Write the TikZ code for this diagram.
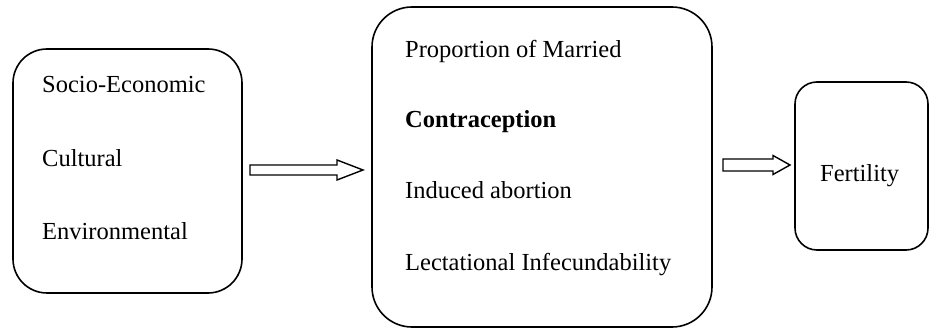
\documentclass[tikz,border=0pt]{standalone}
\usepackage{fontspec}
\setmainfont{Liberation Serif}
\usetikzlibrary{calc}
\begin{document}
\begin{tikzpicture}[x=1pt,y=-1pt,
  boxshape/.style={draw, line width=1.6pt, inner sep=0pt, outer sep=0pt},
  label/.style={anchor=base west, inner sep=0pt, font=\fontsize{24.5}{29}\selectfont},
  hollowarrow/.style={draw, line width=1.4pt, line join=miter, fill=white}]
\useasboundingbox (0,0) rectangle (931,328);
% boxes
\node[boxshape, rounded corners=34pt, minimum width=229pt, minimum height=244pt] (b1) at (127.5,171) {};
\node[boxshape, rounded corners=40pt, minimum width=340pt, minimum height=320pt] (b2) at (542,167) {};
\node[boxshape, rounded corners=22pt, minimum width=133pt, minimum height=168pt] (b3) at (861.5,166) {};
% texts
\node[label] (t1) at (42,93) {Socio-Economic};
\node[label] (t2) at (42,167) {Cultural};
\node[label] (t3) at (42,240) {Environmental};
\node[label] (t4) at (405,58) {Proportion of Married};
\node[label] (t5) at (405,128) {\bfseries Contraception};
\node[label] (t6) at (405,199) {Induced abortion};
\node[label] (t7) at (405,271) {Lectational Infecundability};
\node[label] (t8) at (820,182) {Fertility};
% arrows
\coordinate (a1s) at ([xshift=8pt,yshift=1pt]b1.east);
\coordinate (a1e) at ([xshift=-9pt]b2.west |- a1s);
\draw[hollowarrow] ($(a1s)+(0,5)$) -- ($(a1e)+(-26,5)$) -- ($(a1e)+(-26,10)$) -- (a1e)
  -- ($(a1e)+(-26,-10)$) -- ($(a1e)+(-26,-5)$) -- ($(a1s)+(0,-5)$) -- cycle;
\coordinate (a2s) at ([xshift=11pt,yshift=2pt]b2.east);
\coordinate (a2e) at ([xshift=-5pt]b3.west |- a2s);
\draw[hollowarrow] ($(a2s)+(0,6)$) -- ($(a2e)+(-17,6)$) -- ($(a2e)+(-17,9.5)$) -- (a2e)
  -- ($(a2e)+(-17,-9.5)$) -- ($(a2e)+(-17,-6)$) -- ($(a2s)+(0,-6)$) -- cycle;
\end{tikzpicture}
\end{document}
